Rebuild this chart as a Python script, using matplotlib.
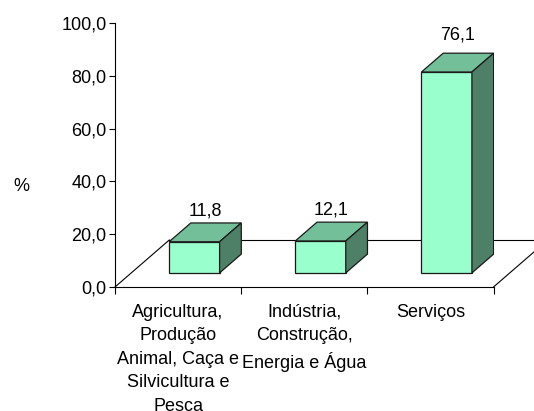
import matplotlib
matplotlib.use("Agg")
import matplotlib.pyplot as plt
from matplotlib.patches import Polygon

plt.rcParams['font.family'] = ['Liberation Sans', 'DejaVu Sans']

categories = ["Agricultura,\nProdução\nAnimal, Caça e\nSilvicultura e\nPesca",
              "Indústria,\nConstrução,\nEnergia e Água",
              "Serviços"]
values = [11.8, 12.1, 76.1]
value_labels = ["11,8", "12,1", "76,1"]
yticks = [0, 20, 40, 60, 80, 100]
ytick_labels = ["0,0", "20,0", "40,0", "60,0", "80,0", "100,0"]

W, H = 534, 411
fig = plt.figure(figsize=(W / 100, H / 100), dpi=100)
ax = fig.add_axes([115 / W, (H - 287) / H, (493.5 - 115) / W, (287 - 23) / H])
ax.set_xlim(0, len(values))
ax.set_ylim(0, 100)

# 3D projection parameters (data units)
DX, DY = 0.43, 17.8          # full floor depth offset
f0, f1 = 0.3, 0.7            # bar depth range (fraction of floor depth)
bw = 0.4                     # bar width (category units)
front_c, top_c, side_c = "#99FFCC", "#73BF99", "#4D8066"
edge = "#1a1a1a"
n = len(values)

# floor outline
ax.plot([0, DX], [0, DY], color="black", lw=0.8, clip_on=False, zorder=1)
ax.plot([DX, n + DX], [DY, DY], color="black", lw=0.8, clip_on=False, zorder=1)
ax.plot([n, n + DX], [0, DY], color="black", lw=0.8, clip_on=False, zorder=1)

fx, fy = DX * f0, DY * f0
ddx, ddy = DX * (f1 - f0), DY * (f1 - f0)
for i, v in enumerate(values):
    l = i + 0.5 - bw / 2 + fx
    r = l + bw
    bot = fy
    top = fy + v
    ax.bar(l, v, bottom=bot, width=bw, align="edge", color=front_c,
           edgecolor=edge, linewidth=0.9, zorder=3)
    ax.add_patch(Polygon([(l, top), (r, top), (r + ddx, top + ddy), (l + ddx, top + ddy)],
                         closed=True, facecolor=top_c, edgecolor=edge, lw=0.9, zorder=3))
    ax.add_patch(Polygon([(r, bot), (r + ddx, bot + ddy), (r + ddx, top + ddy), (r, top)],
                         closed=True, facecolor=side_c, edgecolor=edge, lw=0.9, zorder=3))
    ax.text(i + 0.5 + fx + ddx / 2, 1.035 * v + 15.0, value_labels[i],
            ha="center", va="baseline", fontsize=13, zorder=4)

for s in ["top", "right"]:
    ax.spines[s].set_visible(False)
ax.spines["left"].set_linewidth(0.8)
ax.spines["bottom"].set_linewidth(0.8)

ax.set_yticks(yticks)
ax.set_yticklabels(ytick_labels, fontsize=13)
ax.tick_params(axis="y", direction="out", length=4, width=0.8, pad=2)

ax.set_xticks(range(n + 1))
ax.set_xticklabels([""] * (n + 1))
ax.tick_params(axis="x", which="major", direction="out", length=5, width=0.8)
ax.set_xticks([i + 0.5 for i in range(n)], minor=True)
ax.set_xticklabels(categories, minor=True, fontsize=13, linespacing=1.5)
ax.tick_params(axis="x", which="minor", length=0, pad=12)

fig.text(21 / W, 1 - 186 / H, "%", ha="center", va="center", fontsize=13)

fig.savefig("out.png", dpi=100)
